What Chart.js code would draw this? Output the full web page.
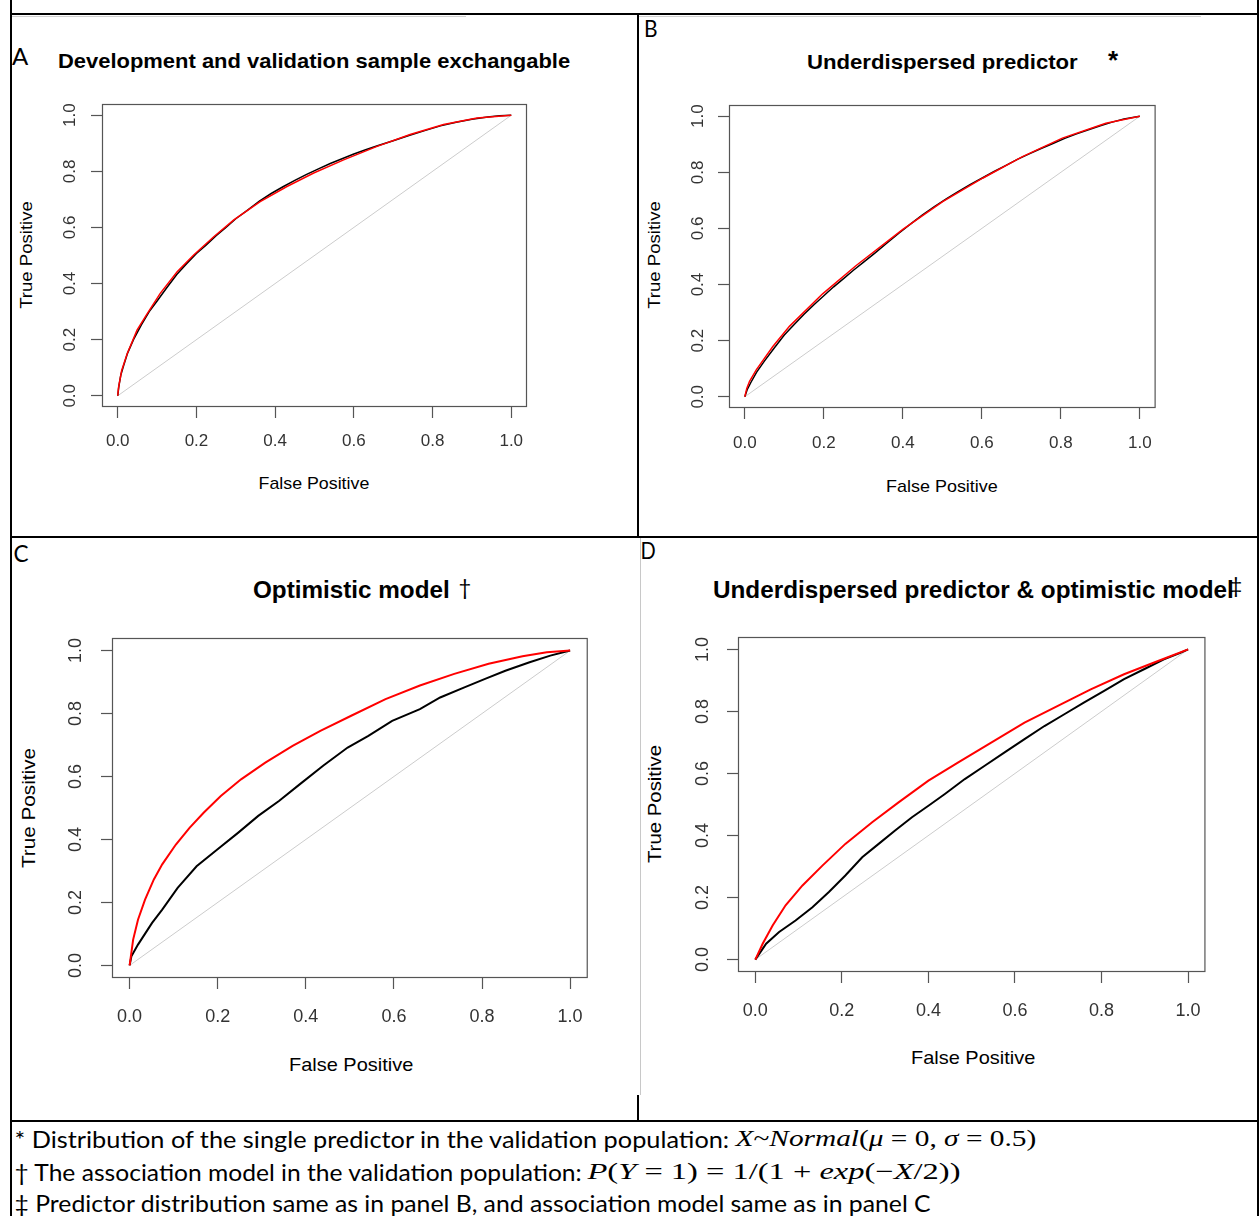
<!DOCTYPE html>
<html><head><meta charset="utf-8">
<script src="https://cdn.jsdelivr.net/npm/chart.js@4.4.1/dist/chart.umd.min.js"></script>
<style>
html,body{margin:0;padding:0;background:#fff;}
#page{position:relative;width:1259px;height:1216px;overflow:hidden;background:#fff;}
.ln{position:absolute;}
.tx{position:absolute;left:0;top:0;white-space:nowrap;line-height:1;color:#000;}
canvas{position:absolute;}
i{font-style:italic;}
</style></head><body><div id="page"></div>
<script>
// ---------------- data ----------------
const tickValues = [0, 0.2, 0.4, 0.6, 0.8, 1.0];
const tickLabels = ['0.0', '0.2', '0.4', '0.6', '0.8', '1.0'];
const diagFpr = [0, 1];
const diagTpr = [0, 1];

// Panel A
const aRedFpr = [0, 0.002, 0.01, 0.024, 0.049, 0.075, 0.108, 0.151, 0.193, 0.244, 0.295, 0.362, 0.430, 0.498, 0.574, 0.659, 0.743, 0.828, 0.913, 1];
const aRedTpr = [0, 0.03, 0.09, 0.150, 0.234, 0.293, 0.365, 0.442, 0.502, 0.567, 0.627, 0.692, 0.746, 0.794, 0.841, 0.889, 0.931, 0.967, 0.990, 1];
const aBlackFpr = [0, 0.003, 0.008, 0.015, 0.025, 0.04, 0.06, 0.08, 0.1, 0.125, 0.15, 0.175, 0.2, 0.225, 0.25, 0.275, 0.3, 0.33, 0.36, 0.39, 0.42, 0.45, 0.48, 0.51, 0.54, 0.57, 0.6, 0.63, 0.66, 0.7, 0.74, 0.78, 0.82, 0.86, 0.9, 0.94, 0.97, 1];
const aBlackTpr = [0, 0.035, 0.075, 0.108, 0.152, 0.200, 0.253, 0.300, 0.338, 0.386, 0.432, 0.471, 0.507, 0.538, 0.571, 0.600, 0.631, 0.662, 0.694, 0.721, 0.745, 0.768, 0.789, 0.809, 0.828, 0.845, 0.862, 0.877, 0.891, 0.909, 0.928, 0.945, 0.962, 0.975, 0.986, 0.994, 0.998, 1];

// Panel B
const bRedFpr = [0, 0.005, 0.012, 0.029, 0.071, 0.113, 0.197, 0.282, 0.400, 0.501, 0.602, 0.703, 0.804, 0.914, 1];
const bRedTpr = [0, 0.03, 0.055, 0.096, 0.179, 0.251, 0.367, 0.468, 0.597, 0.696, 0.779, 0.856, 0.922, 0.975, 1];
const bBlackFpr = [0, 0.006, 0.015, 0.03, 0.05, 0.075, 0.1, 0.125, 0.15, 0.175, 0.2, 0.225, 0.25, 0.275, 0.3, 0.33, 0.36, 0.39, 0.42, 0.45, 0.48, 0.51, 0.54, 0.57, 0.6, 0.63, 0.66, 0.69, 0.72, 0.75, 0.78, 0.81, 0.84, 0.87, 0.9, 0.93, 0.96, 1];
const bBlackTpr = [0, 0.025, 0.05, 0.088, 0.128, 0.175, 0.220, 0.258, 0.294, 0.328, 0.360, 0.392, 0.421, 0.451, 0.479, 0.513, 0.548, 0.583, 0.616, 0.648, 0.678, 0.705, 0.731, 0.756, 0.779, 0.802, 0.824, 0.846, 0.866, 0.885, 0.903, 0.921, 0.937, 0.952, 0.966, 0.979, 0.990, 1];

// Panel C
const cRedFpr = [0, 0.008, 0.019, 0.035, 0.055, 0.074, 0.105, 0.136, 0.168, 0.207, 0.253, 0.308, 0.370, 0.433, 0.503, 0.581, 0.659, 0.737, 0.815, 0.892, 0.947, 1];
const cRedTpr = [0, 0.082, 0.145, 0.209, 0.273, 0.321, 0.384, 0.437, 0.485, 0.538, 0.591, 0.644, 0.697, 0.745, 0.793, 0.846, 0.889, 0.926, 0.958, 0.982, 0.995, 1];
const cBlackFpr = [0, 0.004, 0.019, 0.051, 0.074, 0.109, 0.152, 0.199, 0.246, 0.292, 0.339, 0.386, 0.440, 0.495, 0.542, 0.596, 0.659, 0.705, 0.760, 0.807, 0.853, 0.908, 0.955, 1];
const cBlackTpr = [0, 0.029, 0.066, 0.135, 0.177, 0.246, 0.315, 0.368, 0.421, 0.475, 0.522, 0.575, 0.635, 0.692, 0.729, 0.777, 0.814, 0.851, 0.883, 0.910, 0.936, 0.963, 0.984, 1];

// Panel D
const dRedFpr = [0, 0.017, 0.040, 0.070, 0.109, 0.155, 0.208, 0.270, 0.331, 0.400, 0.469, 0.546, 0.622, 0.699, 0.775, 0.852, 0.929, 1];
const dRedTpr = [0, 0.051, 0.110, 0.175, 0.239, 0.303, 0.373, 0.443, 0.507, 0.577, 0.636, 0.700, 0.764, 0.818, 0.871, 0.920, 0.962, 1];
const dBlackFpr = [0, 0.025, 0.055, 0.093, 0.132, 0.170, 0.208, 0.247, 0.285, 0.323, 0.362, 0.400, 0.438, 0.484, 0.530, 0.576, 0.622, 0.668, 0.714, 0.760, 0.806, 0.852, 0.898, 0.944, 0.982, 1];
const dBlackTpr = [0, 0.051, 0.089, 0.126, 0.169, 0.218, 0.271, 0.330, 0.373, 0.416, 0.459, 0.496, 0.534, 0.582, 0.625, 0.668, 0.711, 0.753, 0.791, 0.829, 0.866, 0.904, 0.936, 0.968, 0.989, 1];

const panelTitles = ['Development and validation sample exchangable', 'Underdispersed predictor', 'Optimistic model', 'Underdispersed predictor & optimistic model'];
const panelMarks = ['', '*', '\u2020', '\u2021'];
const panelLetters = ['A', 'B', 'C', 'D'];
const xTitle = 'False Positive';
const yTitle = 'True Positive';

// ---------------- page helpers ----------------
const page = document.getElementById('page');
function line(x, y, w, h, color) {
  const d = document.createElement('div');
  d.className = 'ln';
  d.style.left = x + 'px'; d.style.top = y + 'px';
  d.style.width = w + 'px'; d.style.height = h + 'px';
  d.style.background = color || '#000';
  page.appendChild(d);
}
// place text centred at (cx, cy), stretched to a given length, optionally rotated
function place(html, cx, cy, len, font, rot) {
  const el = document.createElement('div');
  el.className = 'tx';
  el.style.font = font;
  el.innerHTML = html;
  page.appendChild(el);
  const w0 = el.offsetWidth, h0 = el.offsetHeight;
  el.style.left = (cx - w0 / 2) + 'px';
  el.style.top = (cy - h0 / 2) + 'px';
  el.style.transformOrigin = '50% 50%';
  const s = len ? len / w0 : 1;
  el.style.transform = (rot ? 'rotate(' + rot + 'deg) ' : '') + 'scaleX(' + s + ')';
  return el;
}
function placeLR(html, x0, x1, cy, font) { return place(html, (x0 + x1) / 2, cy, x1 - x0, font, 0); }

// ---------------- table frame ----------------
line(10, 0, 2, 1216);          // left border
line(1257, 0, 2, 1216);        // right border
line(10, 13, 1249, 2);         // top rule
line(10, 536, 1249, 2);        // middle rule
line(10, 1120, 1249, 2);       // bottom rule of figure cells
line(637, 14, 2, 523);         // divider A|B
line(637, 1095, 2, 26);        // divider C|D (visible part)
line(640, 538, 1, 557, '#c8c8c8');
line(12, 16, 454, 1, '#d0d0d0');
line(639, 16, 562, 1, '#d0d0d0');

// ---------------- charts ----------------
const FONT = '"Liberation Sans", Arial, Helvetica, sans-serif';
function pts(xs, ys) { return xs.map((x, i) => ({ x: x, y: ys[i] })); }

const boxPlugin = {
  id: 'rbox',
  afterDraw(chart) {
    const a = chart.chartArea, ctx = chart.ctx;
    ctx.save();
    ctx.strokeStyle = '#555';
    ctx.lineWidth = 1.2;
    ctx.strokeRect(a.left + 0.5, a.top + 0.5, a.right - a.left - 1, a.bottom - a.top - 1);
    ctx.restore();
  }
};
const yLabPlugin = {
  id: 'ylab',
  afterDraw(chart, args, opts) {
    const s = chart.scales.y, ctx = chart.ctx;
    ctx.save();
    ctx.fillStyle = '#333';
    ctx.font = opts.size + 'px ' + FONT;
    ctx.textAlign = 'center';
    ctx.textBaseline = 'middle';
    s.ticks.forEach(t => {
      const py = s.getPixelForValue(t.value);
      ctx.save();
      ctx.translate(chart.chartArea.left - opts.off, py);
      ctx.rotate(-Math.PI / 2);
      ctx.fillText(tickLabels[tickValues.indexOf(t.value)], 0, 0);
      ctx.restore();
    });
    ctx.restore();
  }
};

function makePanel(box, red, black, lw, fsize, xPad, yOff) {
  const c = document.createElement('canvas');
  const W = box.R - box.L + 70, H = box.B - box.T + 60;
  c.width = W; c.height = H;
  c.style.left = (box.L - 60) + 'px'; c.style.top = (box.T - 10) + 'px';
  c.style.width = W + 'px'; c.style.height = H + 'px';
  page.appendChild(c);
  const axisCommon = {
    type: 'linear', min: -0.04, max: 1.04,
    afterBuildTicks: s => { s.ticks = tickValues.map(v => ({ value: v })); },
    grid: { display: true, drawOnChartArea: false, drawTicks: true, tickLength: 11, tickColor: '#555', tickWidth: 1.2 },
    border: { display: false }
  };
  new Chart(c, {
    type: 'scatter',
    data: {
      datasets: [
        { label: 'smooth', data: pts(red[0], red[1]), showLine: true, borderColor: '#ff0000', borderWidth: lw, pointRadius: 0, fill: false },
        { label: 'empirical', data: pts(black[0], black[1]), showLine: true, borderColor: '#000000', borderWidth: lw, pointRadius: 0, fill: false },
        { label: 'chance', data: pts(diagFpr, diagTpr), showLine: true, borderColor: '#cccccc', borderWidth: 1, pointRadius: 0, fill: false }
      ]
    },
    options: {
      responsive: false, animation: false, devicePixelRatio: 1,
      layout: { padding: { left: 0, top: 10, right: 10, bottom: 0 } },
      plugins: { legend: { display: false }, tooltip: { enabled: false }, title: { display: false },
                 ylab: { size: fsize, off: yOff } },
      elements: { line: { tension: 0 } },
      scales: {
        x: Object.assign({}, axisCommon, {
          position: 'bottom',
          afterFit: s => { s.height = 50; },
          ticks: { padding: xPad, color: '#333', font: { family: FONT, size: fsize }, maxRotation: 0, minRotation: 0, autoSkip: false,
                   callback: v => tickLabels[tickValues.indexOf(v)] }
        }),
        y: Object.assign({}, axisCommon, {
          position: 'left',
          afterFit: s => { s.width = 60; },
          ticks: { display: false }
        })
      }
    },
    plugins: [boxPlugin, yLabPlugin]
  });
}

makePanel({ L: 102, R: 527, T: 104, B: 407 }, [aRedFpr, aRedTpr], [aBlackFpr, aBlackTpr], 1.5, 17, 13, 32);
makePanel({ L: 729, R: 1156, T: 105, B: 408 }, [bRedFpr, bRedTpr], [bBlackFpr, bBlackTpr], 1.5, 17, 14, 31);
makePanel({ L: 112, R: 590, T: 638, B: 978 }, [cRedFpr, cRedTpr], [cBlackFpr, cBlackTpr], 2, 18, 17, 36);
makePanel({ L: 738, R: 1208, T: 637, B: 972 }, [dRedFpr, dRedTpr], [dBlackFpr, dBlackTpr], 2, 18, 17, 35);

// ---------------- text ----------------
const LET = '24px Lato, "Open Sans", sans-serif';
placeLR(panelLetters[0], 12, 28, 55, LET);
placeLR(panelLetters[1], 644, 658, 27, LET);
placeLR(panelLetters[2], 13, 28, 552, LET);
placeLR(panelLetters[3], 640, 655, 549, LET);

placeLR(panelTitles[0], 58, 570, 61, 'bold 21px ' + FONT);
placeLR(panelTitles[1], 807, 1078, 62, 'bold 21px ' + FONT);
placeLR(panelTitles[2], 253, 450, 590, 'bold 24px ' + FONT);
placeLR(panelTitles[3], 713, 1234, 590, 'bold 24px ' + FONT);
place(panelMarks[1], 1113, 60, 0, 'bold 26px ' + FONT, 0);
place(panelMarks[2], 465, 586, 0, '22px Lato, sans-serif', 0);
place(panelMarks[3], 1236, 584, 0, '22px Lato, sans-serif', 0);

placeLR(xTitle, 258, 369, 484, '17px ' + FONT);
placeLR(xTitle, 886, 998, 487, '17px ' + FONT);
placeLR(xTitle, 289, 413, 1065, '19px ' + FONT);
placeLR(xTitle, 911, 1035, 1058, '19px ' + FONT);
place(yTitle, 27, 255, 108, '17px ' + FONT, -90);
place(yTitle, 655, 255, 108, '17px ' + FONT, -90);
place(yTitle, 29, 808, 120, '19px ' + FONT, -90);
place(yTitle, 655, 804, 118, '19px ' + FONT, -90);

// footnotes
const FN = '23px Lato, "Open Sans", sans-serif';
const MF = '23px "Liberation Serif", "DejaVu Serif", serif';
placeLR('* Distribution of the single predictor in the validation population:', 14, 729, 1139, FN);
placeLR('<i>X</i>~<i>Normal</i>(<i>\u03bc</i> = 0, <i>\u03c3</i> = 0.5)', 735, 1036, 1139, MF);
placeLR('\u2020 The association model in the validation population:', 14, 581, 1172, FN);
placeLR('<i>P</i>(<i>Y</i> = 1) = 1/(1 + <i>exp</i>(\u2212<i>X</i>/2))', 587, 960, 1172, MF);
placeLR('\u2021 Predictor distribution same as in panel B, and association model same as in panel C', 14, 930, 1203, FN);
</script>
</body></html>
